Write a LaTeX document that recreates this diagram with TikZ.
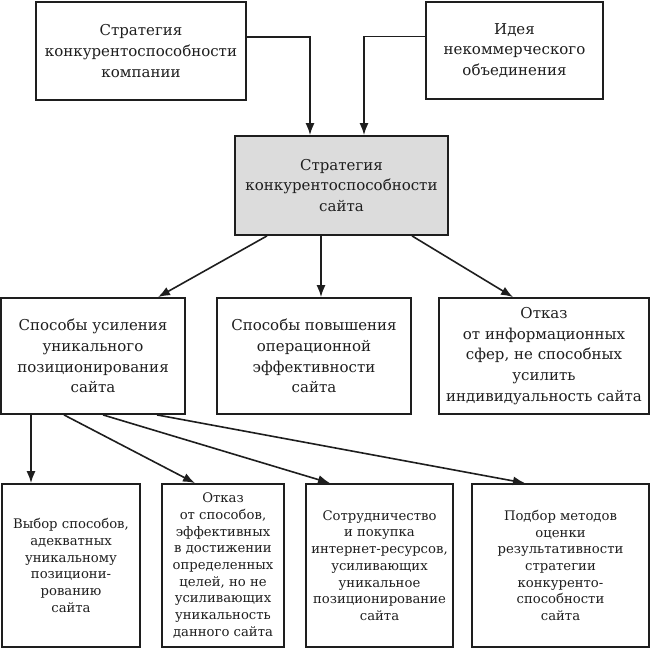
\documentclass[tikz,border=0pt]{standalone}
\usepackage{fontspec}
\setmainfont{DejaVu Serif}
\usetikzlibrary{arrows.meta,calc}
\definecolor{boxgray}{HTML}{DCDCDC}
\definecolor{ink}{HTML}{1E1E1E}
\tikzset{
	block/.style={
			draw=ink, line width=1.8pt, rectangle, align=center, text=ink,
			inner sep=0pt, font=\fontsize{15}{20.7}\selectfont
		},
	small block/.style={
			block, font=\fontsize{13.2}{16.7}\selectfont
		},
	link/.style={
			draw=ink, line width=1.6pt,
			-{Latex[length=12pt,width=9pt]}
		}
}

\begin{document}
\begin{tikzpicture}[x=1pt,y=-1pt]
			\useasboundingbox (0,0) rectangle (650,649);
			% upper level
			\node[block, minimum width=210pt, minimum height=98pt] (komp) at (141,51) {Стратегия\\конкурентоспособности\\компании};
			\node[block, minimum width=177pt, minimum height=97pt] (ideya) at (514.5,50.5) {Идея\\некоммерческого\\объединения};
			\node[block, fill=boxgray, minimum width=213pt, minimum height=99pt] (sait) at (341.5,185.5) {Стратегия\\конкурентоспособности\\сайта};
			% middle level
			\node[block, minimum width=184pt, minimum height=116pt] (pos) at (93,356) {Способы усиления\\уникального\\позиционирования\\сайта};
			\node[block, minimum width=194pt, minimum height=116pt] (eff) at (314,356) {Способы повышения\\операционной\\эффективности\\сайта};
			\node[block, minimum width=210pt, minimum height=116pt] (otk) at (544,356) {Отказ\\от информационных\\сфер, не способных\\усилить\\индивидуальность сайта};
			% lower level
			\node[small block, minimum width=138pt, minimum height=163pt] (vyb) at (71,565.5) {Выбор способов,\\адекватных\\уникальному\\позициони-\\рованию\\сайта};
			\node[small block, minimum width=122pt, minimum height=163pt] (otkaz) at (223,565.5) {Отказ\\от способов,\\эффективных\\в достижении\\определенных\\целей, но не\\усиливающих\\уникальность\\данного сайта};
			\node[small block, minimum width=147pt, minimum height=163pt] (sotr) at (379.5,565.5) {Сотрудничество\\и покупка\\интернет-ресурсов,\\усиливающих\\уникальное\\позиционирование\\сайта};
			\node[small block, minimum width=177pt, minimum height=163pt] (podb) at (560.5,565.5) {Подбор методов\\оценки\\результативности\\стратегии\\конкуренто-\\способности\\сайта};
			% arrows
			\draw[link] ([yshift=14pt]komp.east) -| ([xshift=-31.5pt]sait.north);
			\draw[link] ([yshift=14pt]ideya.west) -| ([xshift=22.5pt]sait.north);
			\draw[link] ([xshift=-74.5pt]sait.south) -- ([xshift=65pt]pos.north);
			\draw[link] ([xshift=-20.5pt]sait.south) -- ([xshift=-20.5pt]sait.south |- eff.north);
			\draw[link] ([xshift=70.5pt]sait.south) -- ([xshift=-31pt]otk.north);
			\draw[link] ([xshift=-62pt]pos.south) -- ([xshift=-62pt]pos.south |- vyb.north);
			\draw[link] ([xshift=-29pt]pos.south) -- ([xshift=-28pt]otkaz.north);
			\draw[link] ([xshift=10pt]pos.south) -- ([xshift=-49.5pt]sotr.north);
			\draw[link] ([xshift=64pt]pos.south) -- ([xshift=-35.5pt]podb.north);
		\end{tikzpicture}
\end{document}
